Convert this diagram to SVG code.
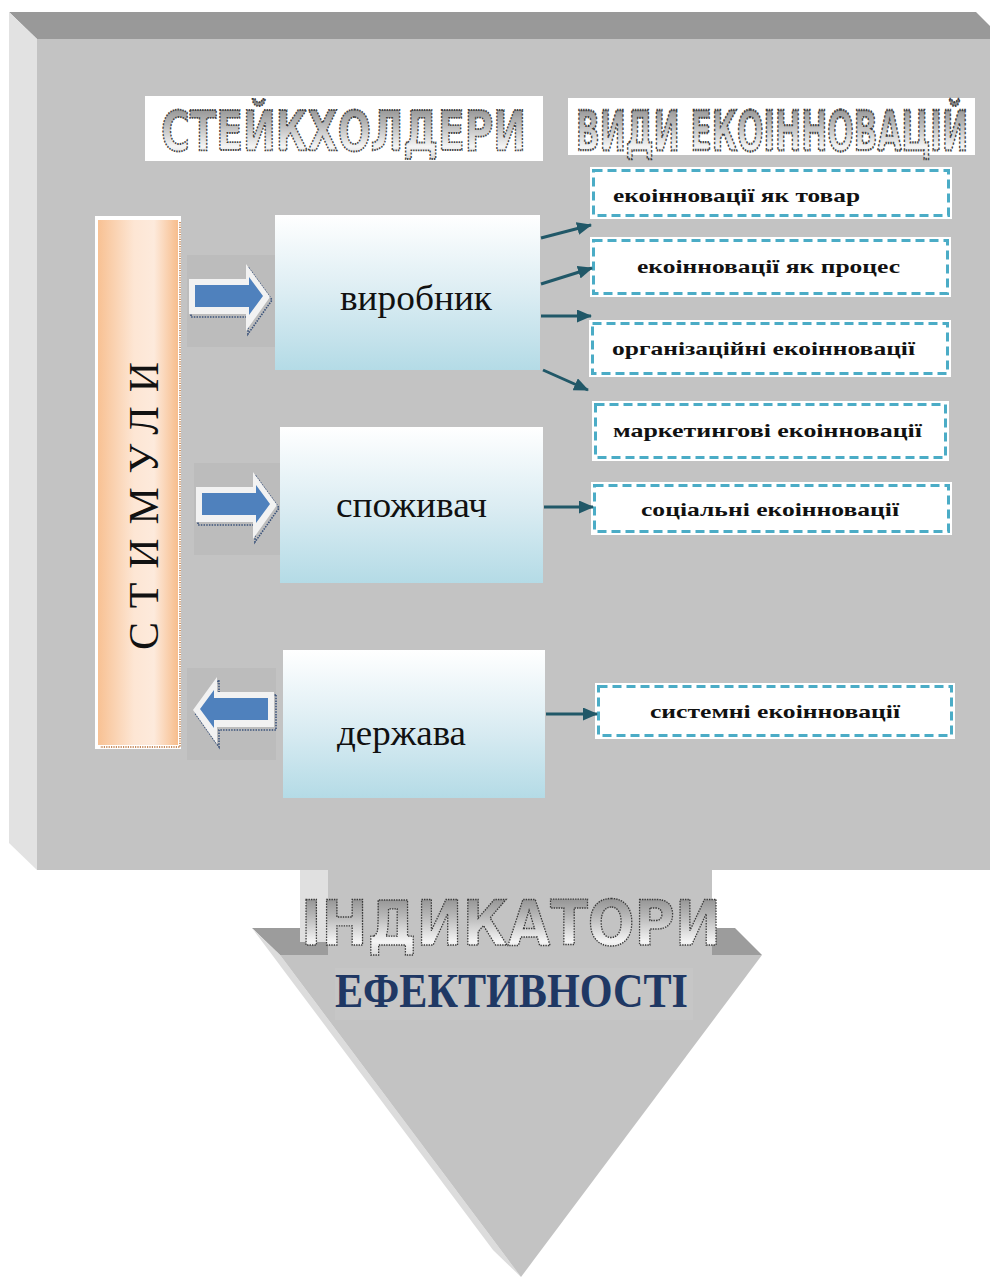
<svg xmlns="http://www.w3.org/2000/svg" width="990" height="1277" viewBox="0 0 990 1277">
<defs>
<style>
.wa{font-family:"DejaVu Sans","Liberation Sans",sans-serif;font-weight:bold;fill:url(#waGrad);stroke:#3a3a3a;stroke-width:1.3;stroke-dasharray:1.4 1.1}
.node{fill:url(#nodeGrad)}
.ntext{font-family:"Liberation Serif","Times New Roman",serif;font-size:36px;fill:#111}
.dbox{fill:#fff}
.dash{fill:#fff;stroke:#4bacc6;stroke-width:3;stroke-dasharray:9 5}
.btext{font-family:"Liberation Serif","Times New Roman",serif;font-size:19px;font-weight:bold;fill:#111}
.conn{stroke:#215868;stroke-width:3;fill:none;marker-end:url(#ah)}
.aout{fill:#f2f2f2}
.ain{fill:#4f81bd}
.ashadow{fill:none;stroke:#3a527a;stroke-width:1.6;stroke-dasharray:1.5 1.2}
.abg{fill:#bcbcbc}
</style>
<linearGradient id="waGrad" x1="0" y1="0" x2="0" y2="1">
<stop offset="0" stop-color="#7e7e7e"/>
<stop offset="0.4" stop-color="#b8b8b8"/>
<stop offset="0.75" stop-color="#f4f4f4"/>
<stop offset="1" stop-color="#d0d0d0"/>
</linearGradient>
<linearGradient id="nodeGrad" x1="0" y1="0" x2="0" y2="1">
<stop offset="0" stop-color="#ffffff"/>
<stop offset="0.5" stop-color="#dcedf3"/>
<stop offset="1" stop-color="#b4dbe6"/>
</linearGradient>
<linearGradient id="stimGrad" x1="0" y1="0" x2="1" y2="0">
<stop offset="0" stop-color="#f8c193"/>
<stop offset="0.45" stop-color="#fde6d4"/>
<stop offset="0.7" stop-color="#fdeadc"/>
<stop offset="1" stop-color="#f7bd8c"/>
</linearGradient>
<marker id="ah" markerWidth="15" markerHeight="13" refX="14" refY="6.5" orient="auto" markerUnits="userSpaceOnUse">
<path d="M0,0 L15,6.5 L0,13 Z" fill="#215868"/>
</marker>
<path id="arrOuter" d="M189,279 H246 V264 L270,297 L246,331 V314 H189 Z"/>
<path id="arrInner" d="M195,285 H249 V277 L263,296 L249,315 V307 H195 Z"/>
</defs>

<rect x="0" y="0" width="990" height="1277" fill="#ffffff"/>

<g id="background-box">
<polygon points="9,12 976,12 990,26 990,39 37,39" fill="#999999"/>
<polygon points="9,12 37,39 37,870 9,843" fill="#e2e2e2"/>
<rect x="37" y="39" width="953" height="831" fill="#c3c3c3"/>
</g>

<g id="down-arrow">
<polygon points="252,928 735,928 762,955 280,955" fill="#9c9c9c"/>
<polygon points="252,928 280,955 521,1277 493,1250" fill="#dcdcdc"/>
<polygon points="280,955 762,955 521,1277" fill="#c3c3c3"/>
<rect x="300" y="870" width="28" height="72" fill="#e0e0e0"/>
<rect x="328" y="870" width="384" height="88" fill="#c3c3c3"/>
<rect x="335" y="968" width="358" height="52" fill="#c6c6c6"/>
</g>

<g id="title-stakeholders">
<rect x="145" y="96" width="398" height="65" fill="#ffffff"/>
<text class="wa" transform="translate(161,150) scale(1,1.4)" x="0" y="0" font-size="40" textLength="365" lengthAdjust="spacingAndGlyphs">СТЕЙКХОЛДЕРИ</text>
</g>
<g id="title-types">
<rect x="568" y="98" width="407" height="57" fill="#ffffff"/>
<text class="wa" transform="translate(576,150) scale(1,1.75)" x="0" y="0" font-size="32" textLength="392" lengthAdjust="spacingAndGlyphs">ВИДИ ЕКОІННОВАЦІЙ</text>
</g>

<g id="stimuli">
<rect x="95" y="216" width="86" height="533" fill="#ffffff"/>
<rect x="98" y="220" width="80" height="525" fill="url(#stimGrad)"/>
<path d="M180,222 V747 H100" fill="none" stroke="#b5682c" stroke-width="1.4" stroke-dasharray="1.2 1.2"/>
<text transform="translate(158,506) rotate(-90)" text-anchor="middle" font-family="Liberation Serif,Times New Roman,serif" font-size="42" fill="#111" textLength="288" lengthAdjust="spacing">СТИМУЛИ</text>
</g>

<g id="arrow-1">
<rect class="abg" x="187" y="255" width="89" height="92"/>
<use href="#arrOuter" class="ashadow" transform="translate(2,3)"/>
<use href="#arrOuter" class="aout"/>
<use href="#arrInner" class="ain"/>
</g>
<g id="arrow-2" transform="translate(7,208)">
<rect class="abg" x="187" y="255" width="89" height="92"/>
<use href="#arrOuter" class="ashadow" transform="translate(2,3)"/>
<use href="#arrOuter" class="aout"/>
<use href="#arrInner" class="ain"/>
</g>
<g id="arrow-3" transform="translate(463,413) scale(-1,1)">
<rect class="abg" x="187" y="255" width="89" height="92"/>
<use href="#arrOuter" class="ashadow" transform="translate(-2,3)"/>
<use href="#arrOuter" class="aout"/>
<use href="#arrInner" class="ain"/>
</g>

<g id="node-vyrobnyk">
<rect class="node" x="275" y="215" width="265" height="155"/>
<text class="ntext" x="340" y="310" textLength="152" lengthAdjust="spacingAndGlyphs">виробник</text>
</g>
<g id="node-spozhyvach">
<rect class="node" x="280" y="427" width="263" height="156"/>
<text class="ntext" x="336" y="517" textLength="151" lengthAdjust="spacingAndGlyphs">споживач</text>
</g>
<g id="node-derzhava">
<rect class="node" x="283" y="650" width="262" height="148"/>
<text class="ntext" x="337" y="745" textLength="129" lengthAdjust="spacingAndGlyphs">держава</text>
</g>

<g id="box-tovar">
<rect class="dbox" x="590" y="167" width="362" height="52"/>
<rect class="dash" x="593.5" y="170.5" width="355" height="45"/>
<text class="btext" x="613" y="202" textLength="247" lengthAdjust="spacingAndGlyphs">екоінновації як товар</text>
</g>
<g id="box-protses">
<rect class="dbox" x="590" y="237" width="361" height="60"/>
<rect class="dash" x="593.5" y="240.5" width="354" height="53"/>
<text class="btext" x="637" y="273" textLength="263" lengthAdjust="spacingAndGlyphs">екоінновації як процес</text>
</g>
<g id="box-org">
<rect class="dbox" x="589" y="320" width="362" height="57"/>
<rect class="dash" x="592.5" y="323.5" width="355" height="50"/>
<text class="btext" x="612" y="355" textLength="303" lengthAdjust="spacingAndGlyphs">організаційні екоінновації</text>
</g>
<g id="box-market">
<rect class="dbox" x="592" y="401" width="357" height="60"/>
<rect class="dash" x="595.5" y="404.5" width="350" height="53"/>
<text class="btext" x="613" y="437" textLength="309" lengthAdjust="spacingAndGlyphs">маркетингові екоінновації</text>
</g>
<g id="box-social">
<rect class="dbox" x="591" y="482" width="361" height="53"/>
<rect class="dash" x="594.5" y="485.5" width="354" height="46"/>
<text class="btext" x="641" y="516" textLength="258" lengthAdjust="spacingAndGlyphs">соціальні екоінновації</text>
</g>
<g id="box-system">
<rect class="dbox" x="595" y="683" width="360" height="56"/>
<rect class="dash" x="598.5" y="686.5" width="353" height="49"/>
<text class="btext" x="650" y="718" textLength="250" lengthAdjust="spacingAndGlyphs">системні екоінновації</text>
</g>

<g id="connectors">
<line class="conn" x1="541" y1="238" x2="591" y2="225"/>
<line class="conn" x1="541" y1="284" x2="592" y2="268"/>
<line class="conn" x1="541" y1="316" x2="591" y2="316"/>
<line class="conn" x1="543" y1="370" x2="588" y2="390"/>
<line class="conn" x1="544" y1="507" x2="593" y2="507"/>
<line class="conn" x1="546" y1="714" x2="597" y2="714"/>
</g>

<g id="indicators">
<text class="wa" transform="translate(301,945) scale(1,1.1)" x="0" y="0" font-size="56" textLength="420" lengthAdjust="spacingAndGlyphs">ІНДИКАТОРИ</text>
<text transform="translate(335,1007) scale(1,1.12)" x="0" y="0" font-family="Liberation Serif,Times New Roman,serif" font-weight="bold" font-size="43" fill="#1f3864" textLength="353" lengthAdjust="spacingAndGlyphs">ЕФЕКТИВНОСТІ</text>
</g>
</svg>
